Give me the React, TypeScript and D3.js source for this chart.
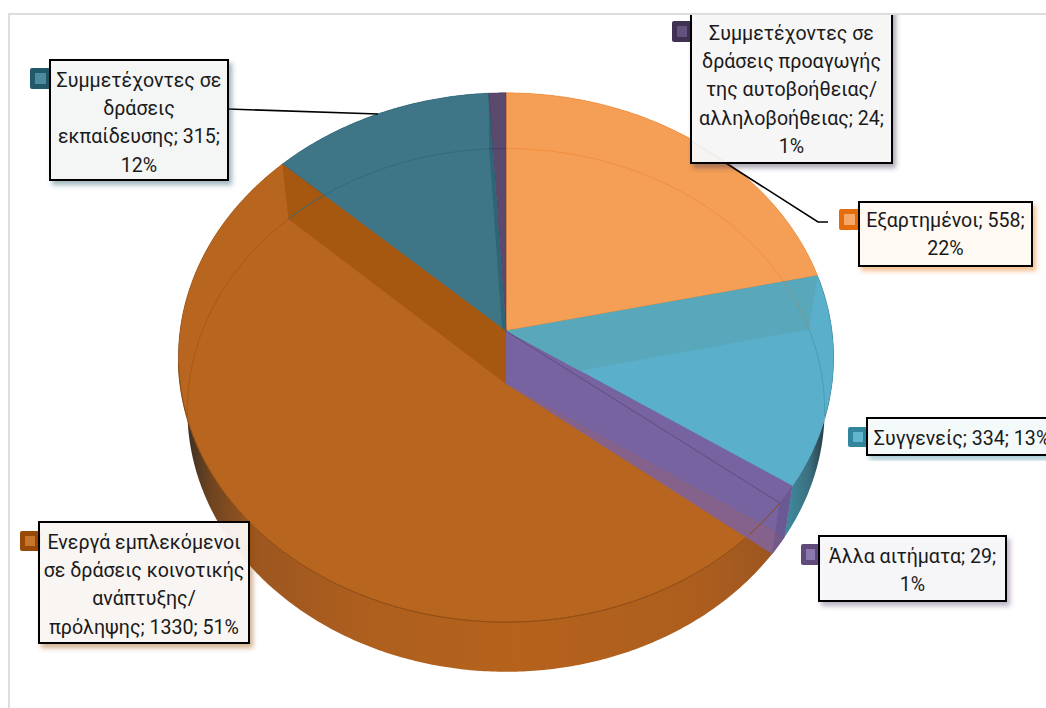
import React from 'react';
import * as d3 from 'd3';

const categories = ['Εξαρτημένοι', 'Συγγενείς', 'Άλλα αιτήματα', 'Ενεργά εμπλεκόμενοι', 'Συμμετέχοντες εκπαίδευσης', 'Συμμετέχοντες αυτοβοήθειας'];
const values = [558, 334, 29, 1330, 315, 24];
const labelLines = [
  ['Εξαρτημένοι; 558;', '22%'],
  ['Συγγενείς; 334; 13%'],
  ['Άλλα αιτήματα; 29;', '1%'],
  ['Ενεργά εμπλεκόμενοι', 'σε δράσεις κοινοτικής', 'ανάπτυξης/', 'πρόληψης; 1330; 51%'],
  ['Συμμετέχοντες σε', 'δράσεις', 'εκπαίδευσης; 315;', '12%'],
  ['Συμμετέχοντες σε', 'δράσεις προαγωγής', 'της αυτοβοήθειας/', 'αλληλοβοήθειας; 24;', '1%'],
];
const topColors = ['#F59E55', '#5AB0CB', '#7763A0', '#B8651F', '#3E7587', '#5C4A6E'];
const keyColors = ['#E46C0A', '#31859C', '#604A7B', '#984807', '#215968', '#403152'];
const keyInner = ['#F7A868', '#62B5CC', '#8B78AE', '#C8742A', '#4A8B9F', '#63527F'];
const boxFills = ['#FFFBF7', '#F7FBFC', '#F9F8FB', '#FBF7F4', '#F6F9F9', '#F9F9FA'];
const boxes = [
  { x: 859, y: 202, w: 173, h: 64, kx: 839, ky: 209, kh: 21, ty: 220 },
  { x: 867, y: 418, w: 190, h: 37, kx: 848, ky: 427, kh: 20, ty: 438 },
  { x: 819, y: 536, w: 187, h: 65, kx: 801, ky: 544, kh: 21, ty: 556 },
  { x: 39, y: 522, w: 210, h: 121, kx: 20, ky: 531, kh: 20, ty: 542 },
  { x: 50, y: 60, w: 178, h: 120, kx: 30, ky: 68, kh: 21, ty: 80 },
  { x: 691, y: 4, w: 201, h: 159, kx: 672, ky: 21, kh: 21, ty: 33 },
];

const width = 1046;
const height = 708;
const cx = 506;
const persp = 0.1;
const upper = { a: 326, b: 262, cy: 331 };
const lower = { a: 317, b: 259, cy: 384 };
const rad = (deg: number) => (deg * Math.PI) / 180;

type Ell = typeof upper;
const proj = (t: number, e: Ell): [number, number] => {
  const w = 1 + persp * Math.cos(t);
  return [cx + (e.a * Math.sin(t)) / w, e.cy - (e.b * Math.cos(t)) / w];
};
const apex = (e: Ell): [number, number] => [cx, e.cy];
const line = d3.line<[number, number]>();
const arcPts = (t0: number, t1: number, e: Ell) => {
  const n = Math.max(2, Math.ceil(Math.abs(t1 - t0) / 0.01));
  return d3.range(n + 1).map((i) => proj(t0 + ((t1 - t0) * i) / n, e));
};
const poly = (pts: [number, number][]) => line(pts) + 'Z';

const slices = d3.pie<number>().sort(null).value((d) => d).startAngle(0).endAngle(2 * Math.PI)(values);
const [sOrange, sTeal, sPurple, sBig, sDeep, sDark] = slices;

const wall = (t: number) => poly([apex(upper), proj(t, upper), proj(t, lower), apex(lower)]);
const ringFills = ['#F59E55', 'url(#tealWall)', '#5E4F86', 'url(#bigWall)', '#215968', '#403152'];

export default function App() {
  // rim of the lower ellipse only shows inside the upper one between these angles
  const rimStart = rad(263);
  const rimEnd = rad(97);
  return (
    <svg width={width} height={height} style={{ position: 'absolute', left: 0, top: 0, background: '#fff' }}
      fontFamily="Roboto" fontSize={19.6}>
      <defs>
        <linearGradient id="bigWall" gradientUnits="userSpaceOnUse" x1={180} x2={790} y1={0} y2={0}>
          <stop offset="0" stopColor="#2E2A26" />
          <stop offset="0.05" stopColor="#6E4420" />
          <stop offset="0.12" stopColor="#9C5620" />
          <stop offset="0.3" stopColor="#AE5F1E" />
          <stop offset="0.55" stopColor="#B5621C" />
          <stop offset="0.85" stopColor="#AD5E1E" />
          <stop offset="1" stopColor="#985420" />
        </linearGradient>
        <linearGradient id="tealWall" gradientUnits="userSpaceOnUse" x1={785} x2={826} y1={0} y2={0}>
          <stop offset="0" stopColor="#3F8CA0" />
          <stop offset="0.6" stopColor="#3A6F80" />
          <stop offset="1" stopColor="#26363E" />
        </linearGradient>
        {keyColors.map((c, i) => (
          <filter key={i} id={`shadow${i}`} x="-10%" y="-10%" width="125%" height="125%">
            <feDropShadow dx={3} dy={4} stdDeviation={2.5} floodColor={c} floodOpacity={0.45} />
          </filter>
        ))}
        <clipPath id="frameClip"><rect x={0} y={15} width={width} height={height} /></clipPath>
      </defs>

      <path d={`M9,${height}V14H${width}`} fill="none" stroke="#DDDDDD" strokeWidth={2} />

      {slices.map((s, i) => (
        <path key={categories[i]} d={poly([...arcPts(s.startAngle, s.endAngle, upper), ...arcPts(s.endAngle, s.startAngle, lower)])}
          fill={ringFills[i]} />
      ))}
      {slices.map((s, i) => (
        <path key={i} d={poly([apex(upper), ...arcPts(s.startAngle, s.endAngle, upper)])}
          fill={topColors[i]} stroke={keyColors[i]} strokeOpacity={0.45} strokeWidth={0.8} />
      ))}

      {/* walls seen through the transparent top */}
      <path d={wall(sDark.startAngle)} fill="#2F6577" />
      <path d={wall(sBig.endAngle)} fill="#A65710" />
      <path d={wall(sTeal.startAngle)} fill="#59A7BA" />

      <path d={line(arcPts(rimStart, sBig.endAngle, lower))!} fill="none" stroke="#A85A10" />
      <path d={line(arcPts(sDeep.startAngle, sDeep.endAngle, lower))!} fill="none" stroke="#35697B" />
      <path d={line(arcPts(sDark.startAngle, sDark.endAngle, lower))!} fill="none" stroke="#403152" strokeOpacity={0.6} />
      <path d={line(arcPts(sOrange.startAngle, sOrange.endAngle, lower))!} fill="none" stroke="#E46C0A" strokeOpacity={0.3} />
      <path d={line(arcPts(sTeal.startAngle, rimEnd, lower))!} fill="none" stroke="#31859C" strokeOpacity={0.45} />
      <path d={line(arcPts(sBig.startAngle, rimStart, upper))!} fill="none" stroke="#8A4A12" strokeWidth={1} />

      {/* small purple slice */}
      <path d={wall(sPurple.startAngle)} fill="#7763A0" />
      <path d={poly([apex(lower), proj(sPurple.startAngle, lower), proj(sPurple.endAngle, lower)])} fill="#84628C" />
      <path d={poly([proj(sPurple.startAngle, upper), proj(sPurple.startAngle, lower), proj(sPurple.endAngle, lower), proj(sPurple.endAngle, upper)])}
        fill="#5E4F86" fillOpacity={0.5} />
      <path d={line([apex(upper), proj(sPurple.endAngle, upper)])!} stroke="#5A4A80" strokeWidth={0.9} fill="none" />
      <path d={line(arcPts(sPurple.endAngle, sPurple.endAngle + rad(8), upper))!} stroke="#8A4A12" fill="none" />

      {/* leader lines */}
      <path d="M693,142L818,222H828" fill="none" stroke="#000" strokeWidth={1.6} />
      <path d="M228,109L378,114" fill="none" stroke="#000" strokeWidth={1.6} />

      {boxes.map((b, i) => {
        const kw = b.x - b.kx;
        return (
          <g key={categories[i]}>
            <rect x={b.kx} y={b.ky} width={kw + 2} height={b.kh} rx={2} fill={keyColors[i]} />
            <rect x={b.kx + 5} y={b.ky + 5} width={kw - 9} height={b.kh - 10} fill={keyInner[i]} />
            <g clipPath={i === 5 ? 'url(#frameClip)' : undefined}>
              <rect x={b.x} y={b.y} width={b.w} height={b.h} fill={boxFills[i]} fillOpacity={0.94}
                stroke="#000" strokeWidth={2} filter={`url(#shadow${i})`} />
            </g>
            {labelLines[i].map((t, j) => (
              <text key={j} x={b.x + b.w / 2} y={b.ty + j * 28.4} textAnchor="middle" dominantBaseline="central" fill="#1A1A1A">{t}</text>
            ))}
          </g>
        );
      })}
    </svg>
  );
}
